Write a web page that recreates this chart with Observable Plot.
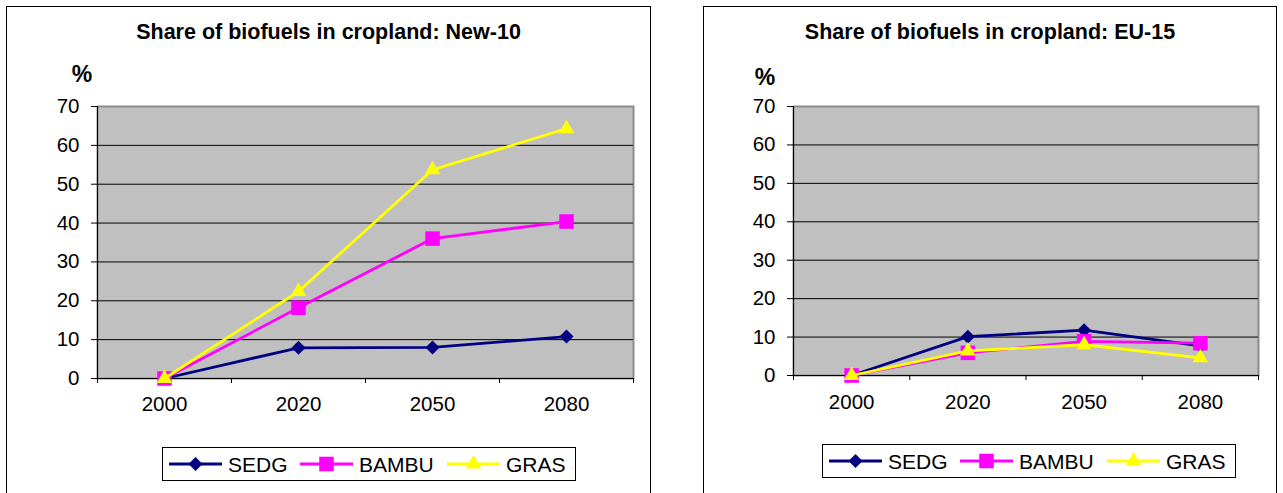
<!DOCTYPE html>
<html>
<head>
<meta charset="utf-8">
<script src="https://cdn.jsdelivr.net/npm/d3@7"></script>
<script src="https://cdn.jsdelivr.net/npm/@observablehq/plot@0.6"></script>
<style>
  html, body { margin: 0; padding: 0; background: #ffffff; }
  body { position: relative; width: 1283px; height: 493px; overflow: hidden;
         font-family: Arial, "Liberation Sans", sans-serif; color: #000; }
  .frame { position: absolute; box-sizing: border-box; border: 1px solid #000; background: #fff; }
  .title { position: absolute; transform: translate(-50%, -50%); white-space: nowrap;
           font-weight: bold; font-size: 21.5px; line-height: 1; }
  .unit { position: absolute; transform: translate(-50%, -50%); white-space: nowrap;
          font-weight: bold; font-size: 23px; line-height: 1; }
  .plot, .legend { position: absolute; }
</style>
</head>
<body>
<script>
// Categories and series
const years = ["2000", "2020", "2050", "2080"];
const seriesNames = ["SEDG", "BAMBU", "GRAS"];
const seriesColors = ["#000080", "#ff00ff", "#ffff00"];
const seriesSymbols = ["diamond2", "square", "triangle"];
const yTicks = [0, 10, 20, 30, 40, 50, 60, 70];

// Share of biofuels in cropland (%), New-10
const new10SEDG = [0, 7.9, 8.0, 10.8];
const new10BAMBU = [0, 18.2, 36.0, 40.4];
const new10GRAS = [0, 22.4, 53.7, 64.3];

// Share of biofuels in cropland (%), EU-15
const eu15SEDG = [0, 10.1, 11.8, 7.7];
const eu15BAMBU = [0, 5.9, 8.9, 8.4];
const eu15GRAS = [0, 6.4, 8.0, 4.6];

const symbolR = {diamond2: 6.3, square: 8.2, triangle: 5.8};

function rows(valueLists) {
  const out = [];
  valueLists.forEach((vals, s) => {
    vals.forEach((v, i) => out.push({series: seriesNames[s], s, i, value: v}));
  });
  return out;
}

function el(tag, cls, css, text) {
  const e = document.createElement(tag);
  if (cls) e.className = cls;
  Object.assign(e.style, css);
  if (text != null) e.textContent = text;
  document.body.appendChild(e);
  return e;
}

function drawChart(cfg) {
  // outer chart frame (open at the bottom edge of the page)
  el("div", "frame", {left: cfg.frame[0] + "px", top: cfg.frame[1] + "px",
    width: (cfg.frame[2] - cfg.frame[0]) + "px", height: "600px"});
  el("div", "title", {left: (cfg.frame[0] + cfg.frame[2]) / 2 + "px", top: "33px"}, cfg.title);
  el("div", "unit", {left: cfg.unit[0] + "px", top: cfg.unit[1] + "px"}, "%");

  const data = rows(cfg.values);
  const marks = [
    Plot.frame({fill: "#c0c0c0", stroke: "#8c8c8c", strokeWidth: 2}),
    Plot.ruleY(yTicks.filter(d => d > 0 && d < 70), {stroke: "#000", strokeWidth: 1}),
    Plot.ruleX([-0.5], {stroke: "#000"}),
    Plot.ruleY([0], {stroke: "#000"}),
    Plot.axisY({ticks: yTicks, tickSize: 6, tickPadding: 12, tickFormat: d => String(d),
      label: null, fontSize: 20.5}),
    Plot.axisX({ticks: [-0.5, 0.5, 1.5, 2.5, 3.5], tickSize: 5, tickFormat: () => "", label: null}),
    Plot.axisX({ticks: [0, 1, 2, 3], tickSize: 0, tickPadding: cfg.xPad,
      tickFormat: i => years[i], label: null, fontSize: 20.5})
  ];
  seriesNames.forEach((name, s) => {
    const sub = data.filter(d => d.s === s);
    marks.push(Plot.line(sub, {x: "i", y: "value", stroke: seriesColors[s], strokeWidth: 2.8}));
    marks.push(Plot.dot(sub, {x: "i", y: "value", symbol: seriesSymbols[s],
      r: symbolR[seriesSymbols[s]], fill: seriesColors[s], stroke: "none"}));
  });

  const svg = Plot.plot({
    width: cfg.svg[2], height: cfg.svg[3],
    marginLeft: cfg.margins[0], marginRight: cfg.margins[1],
    marginTop: cfg.margins[2], marginBottom: cfg.margins[3],
    x: {type: "linear", domain: [-0.5, 3.5]},
    y: {type: "linear", domain: [0, 70]},
    style: {fontFamily: "Arial, 'Liberation Sans', sans-serif", fontSize: "20.5px",
      color: "#000", background: "transparent", overflow: "visible"},
    marks
  });
  svg.classList.add("plot");
  svg.style.left = cfg.svg[0] + "px";
  svg.style.top = cfg.svg[1] + "px";
  document.body.appendChild(svg);

  // legend box
  const W = 414, H = 34;
  const lg = d3.select(document.body).append("svg")
    .attr("class", "legend").attr("width", W + 2).attr("height", H + 2)
    .style("left", (cfg.legend[0] - 1) + "px").style("top", (cfg.legend[1] - 1) + "px");
  lg.append("rect").attr("x", 1.5).attr("y", 1.5).attr("width", W - 1).attr("height", H - 1)
    .attr("fill", "#fff").attr("stroke", "#000").attr("stroke-width", 1);
  const offsets = [7, 138, 285];
  const d3sym = {diamond2: d3.symbolDiamond2, square: d3.symbolSquare, triangle: d3.symbolTriangle};
  seriesNames.forEach((name, s) => {
    const x0 = 1 + offsets[s], cy = 1 + H / 2;
    lg.append("line").attr("x1", x0).attr("x2", x0 + 53).attr("y1", cy).attr("y2", cy)
      .attr("stroke", seriesColors[s]).attr("stroke-width", 2.8);
    const r = symbolR[seriesSymbols[s]];
    lg.append("path").attr("transform", `translate(${x0 + 26.5},${cy})`)
      .attr("d", d3.symbol(d3sym[seriesSymbols[s]], r * r * Math.PI)())
      .attr("fill", seriesColors[s]);
    lg.append("text").attr("x", x0 + 59).attr("y", cy + 7.5)
      .attr("font-family", "Arial, 'Liberation Sans', sans-serif").attr("font-size", 21)
      .attr("fill", "#000").text(name);
  });
}

drawChart({
  title: "Share of biofuels in cropland: New-10",
  frame: [6, 6, 651],
  unit: [82, 73.5],
  values: [new10SEDG, new10BAMBU, new10GRAS],
  svg: [40, 90, 610, 320],
  margins: [57, 17, 16, 32],
  xPad: 18,
  legend: [162, 447]
});

drawChart({
  title: "Share of biofuels in cropland: EU-15",
  frame: [703, 6, 1277],
  unit: [765, 77],
  values: [eu15SEDG, eu15BAMBU, eu15GRAS],
  svg: [740, 90, 530, 320],
  margins: [53, 12, 16, 35],
  xPad: 19,
  legend: [822, 444]
});
</script>
</body>
</html>
